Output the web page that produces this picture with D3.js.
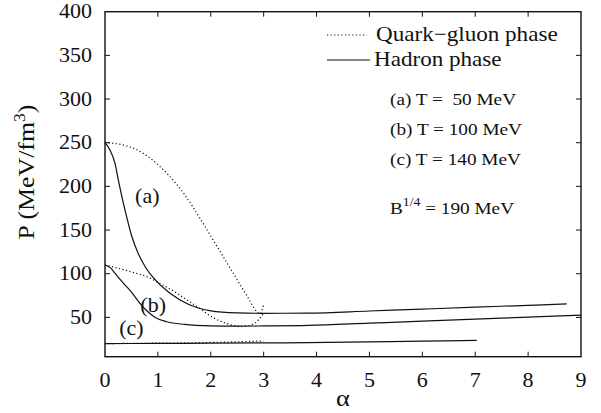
<!DOCTYPE html>
<html>
<head>
<meta charset="utf-8">
<script src="https://cdn.jsdelivr.net/npm/d3@7"></script>
<style>
  body { margin: 0; background: #fff; }
</style>
</head>
<body>
<div id="chart"></div>
<script>
// values
const xTicks = [0, 1, 2, 3, 4, 5, 6, 7, 8, 9];
const yTicks = [50, 100, 150, 200, 250, 300, 350, 400];

// hadron phase (solid)
const hadronA_alpha = [0, 0.09, 0.19, 0.25, 0.32, 0.41, 0.5, 0.63, 0.76, 0.95, 1.2, 1.42, 1.75, 2.0, 2.5, 3.0, 3.84, 5, 6, 7, 8, 8.73];
const hadronA_P     = [250, 242, 226, 208, 188, 165, 144, 123, 108, 93, 79, 70, 61, 57.5, 55.2, 54.7, 54.9, 57.3, 59.5, 61.7, 63.8, 65.4];
const hadronB_alpha = [0, 0.1, 0.22, 0.35, 0.5, 0.65, 0.8, 0.95, 1.17, 1.5, 2.0, 2.5, 3.0, 3.84, 5, 6, 7, 8, 9];
const hadronB_P     = [110, 107, 98, 89, 79, 67, 57, 50, 45, 42, 40.3, 40, 40.2, 40.8, 43.4, 45.7, 48, 50.3, 52.6];
const hadronC_alpha = [0, 1, 2, 3, 3.84, 5, 6, 7.03];
const hadronC_P     = [20, 20.2, 20.5, 20.8, 21.1, 21.9, 22.8, 23.8];

// quark-gluon phase (dotted)
const quarkA_alpha = [0, 0.3, 0.6, 0.9, 1.2, 1.5, 1.8, 2.1, 2.4, 2.7, 2.88, 2.93, 3.0];
const quarkA_P     = [250, 248, 242, 230, 213, 191, 163, 133, 103, 73, 56, 54, 65];
const quarkB_alpha = [0, 0.5, 0.85, 1.0, 1.3, 1.5, 1.75, 2.05, 2.3, 2.55, 2.75, 2.9, 3.0];
const quarkB_P     = [110, 102, 95, 90, 80, 72, 62, 49.5, 43, 39.5, 41, 47, 55];
const quarkC_alpha = [0, 1, 2, 3];
const quarkC_P     = [20, 20.5, 21.3, 23];

const curveLabels = ["(a)", "(b)", "(c)"];
const curveLabelAlpha = [0.8, 0.91, 0.5];
const curveLabelP = [188, 63, 37];

const notes = ["(a) T =\u00a0 50 MeV", "(b) T = 100 MeV", "(c) T = 140 MeV"];

const width = 601, height = 413;
const margin = {left: 105, right: 20, top: 11.7, bottom: 56.3};
const sx = 1.1; // fonts in the picture are a bit wider than Liberation Serif

const x = d3.scaleLinear([0, 9], [margin.left, width - margin.right]);
const y = d3.scaleLinear([5, 400], [height - margin.bottom, margin.top]);

const svg = d3.select("#chart").append("svg")
    .attr("width", width)
    .attr("height", height)
    .attr("viewBox", [0, 0, width, height])
    .attr("font-family", "Liberation Serif")
    .attr("fill", "#111");

// stretched text helper
function label(g, px, py, str, size, anchor) {
  return g.append("text")
      .attr("transform", `translate(${px},${py}) scale(${sx},1)`)
      .attr("font-size", size)
      .attr("text-anchor", anchor || "start")
      .text(str);
}

// frame
svg.append("rect")
    .attr("x", x(0)).attr("y", y(400))
    .attr("width", x(9) - x(0)).attr("height", y(5) - y(400))
    .attr("fill", "none").attr("stroke", "#111").attr("stroke-width", 1.4);

// inward ticks on all four sides
const tk = 5;
const ticks = svg.append("g").attr("stroke", "#111").attr("stroke-width", 1);
xTicks.slice(1, -1).forEach(v => {
  ticks.append("line").attr("x1", x(v)).attr("x2", x(v)).attr("y1", y(5)).attr("y2", y(5) - tk);
  ticks.append("line").attr("x1", x(v)).attr("x2", x(v)).attr("y1", y(400)).attr("y2", y(400) + tk);
});
yTicks.slice(0, -1).forEach(v => {
  ticks.append("line").attr("x1", x(0)).attr("x2", x(0) + tk).attr("y1", y(v)).attr("y2", y(v));
  ticks.append("line").attr("x1", x(9)).attr("x2", x(9) - tk).attr("y1", y(v)).attr("y2", y(v));
});

// tick labels
xTicks.forEach(v => label(svg, x(v), 387, v, 20, "middle"));
yTicks.forEach(v => label(svg, x(0) - 13, y(v) + 6.5, v, 20, "end"));

// axis titles
label(svg, (x(0) + x(9)) / 2, 406, "\u03b1", 24, "middle");
const yl = svg.append("text")
    .attr("transform", `translate(34,172) rotate(-90) scale(${sx},1)`)
    .attr("font-size", 23.5)
    .attr("text-anchor", "middle");
yl.append("tspan").text("P (MeV/fm");
yl.append("tspan").attr("dy", -9).attr("font-size", 16).text("3");
yl.append("tspan").attr("dy", 9).text(")");

// curves
const line = d3.line()
    .x(d => x(d[0]))
    .y(d => y(d[1]))
    .curve(d3.curveMonotoneX);
const zip = (a, b) => a.map((v, i) => [v, b[i]]);

const plot = svg.append("g").attr("fill", "none").attr("stroke", "#111");
[[hadronA_alpha, hadronA_P], [hadronB_alpha, hadronB_P], [hadronC_alpha, hadronC_P]].forEach(([a, p]) => {
  plot.append("path").attr("d", line(zip(a, p))).attr("stroke-width", 1.2);
});
[[quarkA_alpha, quarkA_P], [quarkB_alpha, quarkB_P], [quarkC_alpha, quarkC_P]].forEach(([a, p]) => {
  plot.append("path").attr("d", line(zip(a, p)))
      .attr("stroke-width", 1.2)
      .attr("stroke-dasharray", "1.2,2.4");
});

// curve labels
curveLabels.forEach((t, i) => label(svg, x(curveLabelAlpha[i]), y(curveLabelP[i]) + 6, t, 20, "middle"));

// legend
svg.append("line").attr("x1", 327).attr("x2", 367).attr("y1", 35).attr("y2", 35)
    .attr("stroke", "#111").attr("stroke-width", 1.2).attr("stroke-dasharray", "1.2,2.4");
label(svg, 376, 40.5, "Quark\u2212gluon phase", 21);
svg.append("line").attr("x1", 327).attr("x2", 370).attr("y1", 60).attr("y2", 60)
    .attr("stroke", "#111").attr("stroke-width", 1.2);
label(svg, 374, 66, "Hadron phase", 21);

// temperature notes
notes.forEach((t, i) => label(svg, 390, 105 + i * 30, t, 17.5));
const b = svg.append("text")
    .attr("transform", `translate(390,214) scale(${sx},1)`)
    .attr("font-size", 17.5);
b.append("tspan").text("B");
b.append("tspan").attr("dy", -8).attr("font-size", 12.5).text("1/4");
b.append("tspan").attr("dy", 8).text(" = 190 MeV");
</script>
</body>
</html>
